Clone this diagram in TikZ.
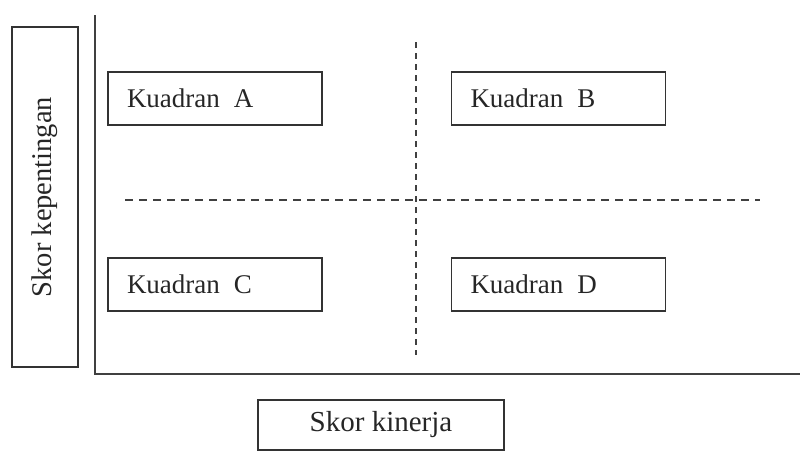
\documentclass[tikz,border=0pt]{standalone}
\usepackage{fontspec}
\setmainfont{Liberation Serif}
\begin{document}
\begin{tikzpicture}[x=1pt, y=-1pt, line width=1.6pt, draw=black!80,
    kotak/.style={draw=black!80, rectangle, inner sep=0pt, font=\fontsize{27}{32}\selectfont, text=black!85},
    kuadran/.style={kotak, minimum width=214pt, minimum height=53pt, text width=176pt, align=left}]
    \useasboundingbox (0,0) rectangle (803,464);
    % sumbu
    \coordinate (atas) at (95,15);
    \coordinate (asal) at (95,374);
    \coordinate (kanan) at (800,374);
    \draw[black!75] (atas) -- (asal) -- (kanan);
    % garis putus-putus
    \coordinate (vt) at (416,42);
    \coordinate (vb) at (416,355);
    \coordinate (hl) at (125,200);
    \coordinate (hr) at (760,200);
    \draw[black!75, dash pattern=on 6pt off 5pt] (vt) -- (vb);
    \draw[black!75, dash pattern=on 8pt off 6pt] (hl) -- (hr);
    % kuadran
    \node[kuadran] (kA) at (215,98.5) {Kuadran\hspace{14pt}A};
    \node[kuadran] (kB) at (558.5,98.5) {Kuadran\hspace{14pt}B};
    \node[kuadran] (kC) at (215,284.5) {Kuadran\hspace{14pt}C};
    \node[kuadran] (kD) at (558.5,284.5) {Kuadran\hspace{14pt}D};
    % label sumbu
    \node[kotak, minimum width=340pt, minimum height=66pt, rotate=90, font=\fontsize{28.5}{34}\selectfont] (ylabel) at (45,197) {Skor kepentingan};
    \node[kotak, minimum width=246pt, minimum height=50pt, font=\fontsize{29}{34}\selectfont] (xlabel) at (381,425) {Skor kinerja};
\end{tikzpicture}
\end{document}
